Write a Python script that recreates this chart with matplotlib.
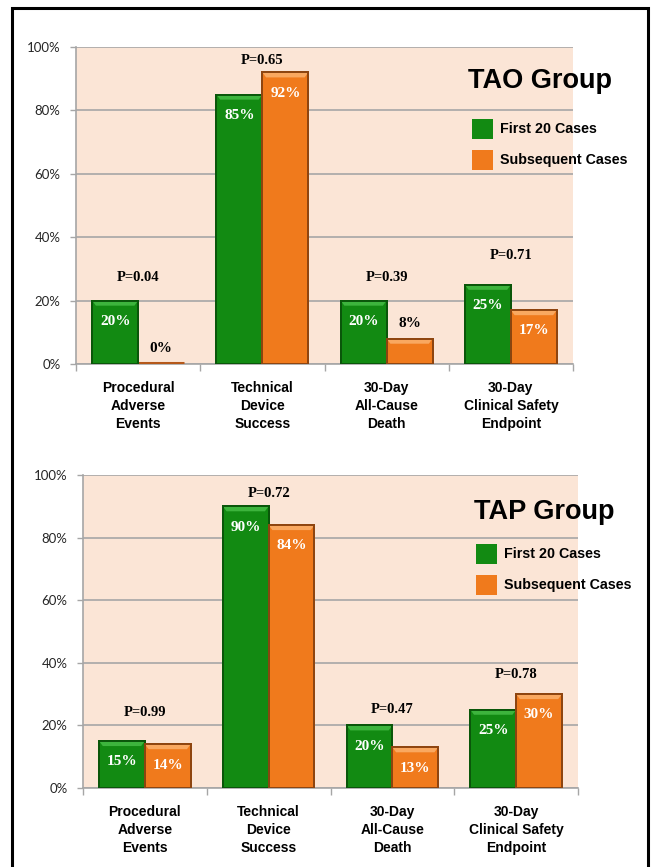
import matplotlib
matplotlib.use("Agg")
import matplotlib.pyplot as plt
from matplotlib.patches import Rectangle, Polygon
import numpy as np

# ---------------- data ----------------
categories = ["Procedural\nAdverse\nEvents", "Technical\nDevice\nSuccess",
              "30-Day\nAll-Cause\nDeath", "30-Day\nClinical Safety\nEndpoint"]
series_names = ["First 20 Cases", "Subsequent Cases"]

tao_first = [20, 85, 20, 25]
tao_subsequent = [0, 92, 8, 17]
tao_pvalues = ["P=0.04", "P=0.65", "P=0.39", "P=0.71"]

tap_first = [15, 90, 20, 25]
tap_subsequent = [14, 84, 13, 30]
tap_pvalues = ["P=0.99", "P=0.72", "P=0.47", "P=0.78"]

yticks = [0, 20, 40, 60, 80, 100]

# ---------------- layout / style ----------------
tao_p_y = [27.4, 95.6, 27.4, 34.1]   # label heights (layout)
tap_p_y = [24.0, 94.2, 25.2, 36.4]

GREEN = "#128A12"
GREEN_EDGE = "#0A560A"
GREEN_TOP = "#3DB43D"
ORANGE = "#F07A1C"
ORANGE_EDGE = "#8E4510"
ORANGE_TOP = "#F9A860"
BG = "#FBE5D6"
GRID = "#A6A6A6"

W, H = 653, 867
fig = plt.figure(figsize=(W / 100, H / 100), dpi=100)
fig.patch.set_facecolor("white")

# outer border
fig.patches.append(Rectangle((12 / W, -0.05), (648 - 12) / W, 1.05 - 8 / H,
                             transform=fig.transFigure, fill=False,
                             edgecolor="black", linewidth=2.2, zorder=0))

sans = "Liberation Sans"
serif = "Liberation Serif"


def draw_bar(ax, x, w, h, face, edge, top):
    ax.add_patch(Rectangle((x - w / 2, 0), w, h, facecolor=face,
                           edgecolor=edge, linewidth=1.4, zorder=3))
    if h > 2:
        bev = 1.6
        dx = 0.03
        ax.add_patch(Polygon([(x - w / 2, h), (x + w / 2, h),
                              (x + w / 2 - dx, h - bev), (x - w / 2 + dx, h - bev)],
                             closed=True, facecolor=top, edgecolor="none",
                             zorder=4))
        ax.add_patch(Rectangle((x - w / 2, 0), w, h, facecolor="none",
                               edgecolor=edge, linewidth=1.4, zorder=5))


def panel(rect, first, subsequent, pvals, p_y, title, title_xy, leg_xy):
    ax = fig.add_axes(rect)
    ax.set_facecolor(BG)
    n = len(categories)
    x = np.arange(n)
    bw = 0.37
    ax.set_xlim(-0.5, n - 0.5)
    ax.set_ylim(0, 100)
    for i in range(n):
        draw_bar(ax, x[i] - bw / 2, bw, first[i], GREEN, GREEN_EDGE, GREEN_TOP)
        if subsequent[i] > 0:
            draw_bar(ax, x[i] + bw / 2, bw, subsequent[i], ORANGE, ORANGE_EDGE, ORANGE_TOP)
        else:
            ax.plot([x[i], x[i] + bw], [0.3, 0.3], color="#B5581A", lw=2.2,
                    zorder=4, solid_capstyle="butt")
        # value labels
        for xv, v in ((x[i] - bw / 2, first[i]), (x[i] + bw / 2, subsequent[i])):
            if v >= 12:
                ax.annotate(f"{v}%", (xv, v), xytext=(0, -15), textcoords="offset points",
                            ha="center", va="center", color="white",
                            fontsize=11, fontweight="bold", family=serif, zorder=6)
            else:
                ax.annotate(f"{v}%", (xv, v), xytext=(0, 11), textcoords="offset points",
                            ha="center", va="center", color="black",
                            fontsize=11, fontweight="bold", family=serif, zorder=6)
        ax.text(x[i], p_y[i], pvals[i], ha="center", va="center", fontsize=10.5,
                fontweight="bold", family=serif, color="black", zorder=6)

    ax.set_yticks(yticks)
    ax.set_yticklabels([f"{t}%" for t in yticks], family="Lato", fontsize=9.5,
                       color="#262626")
    ax.yaxis.grid(True, color=GRID, linewidth=1.2, zorder=1)
    ax.set_axisbelow(True)
    ax.tick_params(axis="y", length=4, color=GRID, width=1, pad=7)
    ax.set_xticks(np.arange(n + 1) - 0.5)
    ax.set_xticklabels([])
    ax.tick_params(axis="x", length=5, color=GRID, width=1, direction="out")
    for s in ("top", "right"):
        ax.spines[s].set_visible(False)
    for s in ("left", "bottom"):
        ax.spines[s].set_color(GRID)
        ax.spines[s].set_linewidth(1.2)
    for i, c in enumerate(categories):
        ax.annotate(c, (x[i], 0), xytext=(0, -12), textcoords="offset points",
                    ha="center", va="top", fontsize=10, fontweight="bold",
                    family=sans, linespacing=1.38, annotation_clip=False)

    # title and legend (figure pixel coords)
    fig.text(title_xy[0] / W, 1 - title_xy[1] / H, title, ha="center", va="center",
             fontsize=19.5, fontweight="bold", family=sans)
    lx, ly = leg_xy
    for k, (name, col, ec) in enumerate(zip(series_names, [GREEN, ORANGE],
                                            [GREEN_EDGE, ORANGE_EDGE])):
        yy = ly + k * 31
        fig.patches.append(Rectangle((lx / W, 1 - (yy + 10) / H), 21 / W, 20 / H,
                                     transform=fig.transFigure, facecolor=col,
                                     edgecolor="none", zorder=5))
        fig.text((lx + 28) / W, 1 - yy / H, name, ha="left", va="center",
                 fontsize=10.3, fontweight="bold", family=sans)
    return ax


panel([76 / W, 1 - 364 / H, (573 - 76) / W, (364 - 47) / H],
      tao_first, tao_subsequent, tao_pvalues, tao_p_y,
      "TAO Group", (540, 81), (472, 129))
panel([83 / W, 1 - 788 / H, (578 - 83) / W, (788 - 475) / H],
      tap_first, tap_subsequent, tap_pvalues, tap_p_y,
      "TAP Group", (544, 512), (476, 554))

fig.savefig("out.png", dpi=100)
